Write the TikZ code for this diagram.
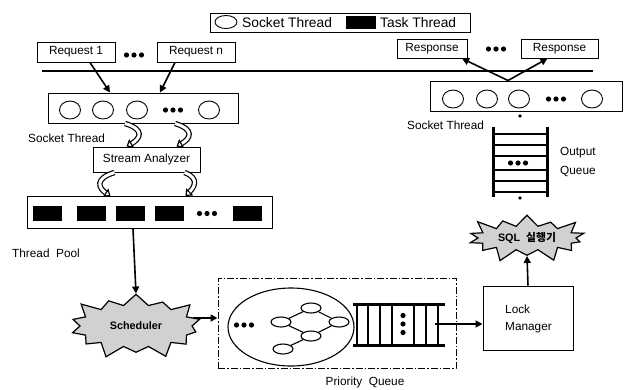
\documentclass[tikz,border=0pt]{standalone}
\usepackage{fontspec}
\setmainfont{Liberation Sans}
\newfontfamily\krfont{Noto Sans CJK KR}
\usetikzlibrary{shapes.symbols,shapes.geometric,arrows.meta}
\begin{document}
\begin{tikzpicture}[x=1pt,y=-1pt,font=\fontsize{11.8}{13}\selectfont,
  box/.style={draw,line width=1pt,inner sep=0pt},
  sock/.style={draw,ellipse,line width=0.9pt,minimum width=21pt,minimum height=18pt,inner sep=0pt},
  task/.style={fill=black,minimum width=29pt,minimum height=15pt,inner sep=0pt},
  arr/.style={line width=1.6pt,-{Triangle[length=7pt,width=7pt]}},
  curv/.style={double=white,double distance=3pt,line width=1.2pt,-{Triangle[open,length=6pt,width=10pt]}},
  gnode/.style={draw,ellipse,line width=1.1pt,minimum width=20pt,minimum height=10pt,inner sep=0pt},
  burst/.style={draw,starburst,line width=1.2pt,fill=black!18,starburst points=14,starburst point height=15pt,inner sep=0pt,font=\fontsize{10.8}{12}\selectfont\bfseries},
  lbl/.style={inner sep=0pt,anchor=west},
  threedots/.pic={\foreach \i in {-7.5,0,7.5} \fill (\i,0) circle (2.6pt);},
  vdots/.pic={\foreach \i in {-8.5,0,8.5} \fill (0,\i) circle (2.6pt);}]
\useasboundingbox (0,0) rectangle (626,389);

% legend
\node[box,minimum width=260pt,minimum height=19pt] (legend) at (340,22.5) {};
\node[draw,ellipse,line width=0.9pt,minimum width=22pt,minimum height=13pt,inner sep=0pt] (legS) at (226,22) {};
\node[lbl,font=\fontsize{13.8}{15}\selectfont] (legSt) at (242,23) {Socket Thread};
\node[fill=black,minimum width=30pt,minimum height=13pt,inner sep=0pt] (legT) at (361,22) {};
\node[lbl,font=\fontsize{13.8}{15}\selectfont] (legTt) at (380,23) {Task Thread};

% requests
\node[box,minimum width=78pt,minimum height=20pt] (req1) at (76,52) {Request 1};
\pic at (134,55) {threedots};
\node[box,minimum width=78pt,minimum height=20pt] (reqn) at (196,52) {Request n};

% responses
\node[box,minimum width=70pt,minimum height=19pt] (resp1) at (432,48.5) {Response};
\pic at (496,49) {threedots};
\node[box,minimum width=77pt,minimum height=19pt] (resp2) at (559.5,48.5) {Response};

% network line
\coordinate (lineL) at (42,71);
\coordinate (lineR) at (593,71);
\draw[line width=1.2pt] (lineL) -- (lineR);

% left socket thread box
\node[box,minimum width=190pt,minimum height=30pt] (sockL) at (143,108) {};
\node[sock] (sl1) at (70,110) {};
\node[sock] (sl2) at (103,110) {};
\node[sock] (sl3) at (137,110) {};
\pic at (173,110) {threedots};
\node[sock] (sl5) at (209,110) {};
\node[lbl] (sockLt) at (28,138) {Socket Thread};

\draw[arr] ([xshift=14pt]req1.south) -- ([xshift=-33pt]sockL.north);
\draw[arr] ([xshift=-21pt]reqn.south) -- ([xshift=17pt]sockL.north);

% right socket thread box
\node[box,minimum width=192pt,minimum height=30pt] (sockR) at (526,96) {};
\node[sock] (sr1) at (453,99) {};
\node[sock] (sr2) at (487,99) {};
\node[sock] (sr3) at (519,99) {};
\pic at (556,99) {threedots};
\node[sock] (sr5) at (592,99) {};
\node[lbl] (sockRt) at (407,125) {Socket Thread};

\draw[arr] ([xshift=-18pt]sockR.north) -- ([xshift=30pt]resp1.south);
\draw[arr] ([xshift=-18pt]sockR.north) -- ([xshift=-12pt]resp2.south);

% output queue
\coordinate (oqTL) at (493,127);
\coordinate (oqBL) at (493,197);
\coordinate (oqTR) at (547,127);
\coordinate (oqBR) at (547,197);
\draw[line width=3pt] (oqTL) -- (oqBL);
\draw[line width=3pt] (oqTR) -- (oqBR);
\foreach \y in {134,145,156,170,181,192} \draw[line width=2pt] (493,\y) -- (547,\y);
\pic at (518,163) {threedots};
\fill (520,116) circle (1.8pt);
\fill (520,198) circle (1.8pt);
\node[lbl,align=left,font=\fontsize{11.8}{19}\selectfont] (oqt) at (560,162) {Output\\Queue};

% stream analyzer
\node[box,minimum width=107pt,minimum height=25pt] (sa) at (146.5,159.5) {Stream Analyzer};
\draw[curv] ([xshift=-18pt]sockL.south) .. controls +(20,6) and +(14,-8) .. ([xshift=-20pt]sa.north);
\draw[curv] ([xshift=32pt]sockL.south) .. controls +(20,6) and +(14,-8) .. ([xshift=30pt]sa.north);

% thread pool
\node[box,minimum width=245pt,minimum height=32pt] (pool) at (149.5,212.5) {};
\node[task] (t1) at (47.5,213.5) {};
\node[task] (t2) at (91.5,213.5) {};
\node[task] (t3) at (130.5,213.5) {};
\node[task] (t4) at (169.5,213.5) {};
\pic at (207,213.5) {threedots};
\node[task] (t5) at (247,213.5) {};
\node[lbl] (poolt) at (12,253) {Thread\ \ Pool};

\draw[curv] ([xshift=-32pt]sa.south) .. controls +(-20,6) and +(-12,-8) .. ([xshift=-39pt]pool.north);
\draw[curv] ([xshift=38pt]sa.south) .. controls +(16,6) and +(8,-8) .. ([xshift=36pt]pool.north);

% scheduler
\node[burst,minimum width=142pt,minimum height=72pt] (sched) at (136,326) {Scheduler};
\draw[arr] (133,229) -- (sched.north);

% priority queue
\node[draw,line width=1pt,dash pattern=on 7pt off 2pt on 1.5pt off 2pt,minimum width=238pt,minimum height=90pt,inner sep=0pt] (pq) at (337,323) {};
\node[draw,ellipse,line width=1.1pt,minimum width=126pt,minimum height=78pt,inner sep=0pt] (pqell) at (291,327) {};
\pic at (244,325) {threedots};
\node[gnode] (gA) at (281,322) {};
\node[gnode] (gT) at (311,308) {};
\node[gnode] (gR) at (339,322) {};
\node[gnode] (gM) at (311,336) {};
\node[gnode] (gL) at (283,349) {};
\draw[line width=1.1pt] (gA) -- (gT);
\draw[line width=1.1pt] (gT) -- (gR);
\draw[line width=1.1pt] (gR) -- (gM);
\draw[line width=1.1pt] (gM) -- (gA);
\draw[line width=1.1pt] (gM) -- (gL);
\coordinate (ladL) at (353,324);
\coordinate (ladR) at (445,324);
\draw[line width=3pt] (353,304) -- (445,304);
\draw[line width=3pt] (353,345) -- (445,345);
\foreach \x in {357,368,380,392,414,426,438} \draw[line width=2pt] (\x,304) -- (\x,345);
\pic at (403,324) {vdots};
\node[inner sep=0pt] (pqt) at (365,382) {Priority\ \ Queue};
\draw[arr] (sched.east |- 0,318) -- (pq.west |- 0,318);

% lock manager
\node[box,minimum width=90pt,minimum height=64pt] (lock) at (528,318) {};
\node[lbl,align=left,font=\fontsize{11.8}{17}\selectfont] (lockt) at (505,319) {Lock\\Manager};
\draw[arr] ([xshift=-10pt]ladR) -- (lock.west |- ladR);

% SQL executor
\node[burst,minimum width=128pt,minimum height=54pt] (sql) at (527,238) {SQL\ \ {\krfont\bfseries 실행기}};
\draw[arr] (lock.north) -- (sql.south);
\end{tikzpicture}
\end{document}
